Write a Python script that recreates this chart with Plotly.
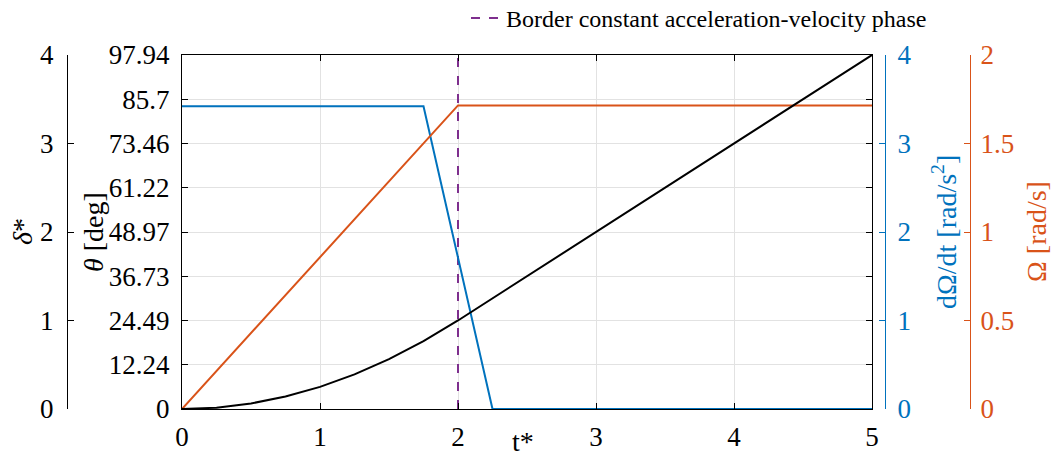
import plotly.graph_objects as go

# ---- data ----
t_theta = [0, 0.25, 0.5, 0.75, 1, 1.25, 1.5, 1.75, 2, 3, 4, 5]
theta = [0, 0.38, 1.53, 3.44, 6.12, 9.57, 13.78, 18.75, 24.49, 48.97, 73.46, 97.94]
t_acc = [0, 1.75, 2.25, 5]
acc = [3.42, 3.42, 0, 0]
t_omega = [0, 2, 5]
omega = [0, 1.715, 1.715]
t_border = [2, 2]
border = [0, 97.94]
x_ticks = [0, 1, 2, 3, 4, 5]
theta_ticks = ["0", "12.24", "24.49", "36.73", "48.97", "61.22", "73.46", "85.7", "97.94"]
delta_ticks = [0, 1, 2, 3, 4]
acc_ticks = [0, 1, 2, 3, 4]
omega_ticks = ["0", "0.5", "1", "1.5", "2"]

BLUE = "#0072BD"
ORANGE = "#D95319"
PURPLE = "#7E2F8E"
FONT = "Liberation Serif"
TICK = 27
TITLE = 28

W, H = 1059, 457
L, R, T, B = 182, 872, 55, 409


def px(x):
    return x / W


def py(y):
    return 1 - y / H


def tf(color):
    return dict(family=FONT, size=TICK, color=color)


fig = go.Figure()
fig.add_trace(go.Scatter(x=t_border, y=border, mode="lines", yaxis="y",
                         line=dict(color=PURPLE, width=2, dash="dash"),
                         name="Border constant acceleration-velocity phase"))
fig.add_trace(go.Scatter(x=[None], y=[None], mode="lines", yaxis="y2",
                         showlegend=False, hoverinfo="skip"))
fig.add_trace(go.Scatter(x=t_acc, y=acc, mode="lines", yaxis="y3",
                         line=dict(color=BLUE, width=2), showlegend=False))
fig.add_trace(go.Scatter(x=t_omega, y=omega, mode="lines", yaxis="y4",
                         line=dict(color=ORANGE, width=2), showlegend=False))
fig.add_trace(go.Scatter(x=t_theta, y=theta, mode="lines", yaxis="y5",
                         line=dict(color="black", width=2), showlegend=False))

common = dict(ticks="inside", ticklen=6, showline=True, linewidth=1,
              zeroline=False, automargin=False)

fig.update_layout(
    width=W, height=H,
    margin=dict(l=0, r=0, t=0, b=0, autoexpand=False),
    paper_bgcolor="white", plot_bgcolor="white",
    font=dict(family=FONT, size=TICK, color="black"),
    showlegend=True,
    legend=dict(x=px(466), y=1.0 + 4 / H, xanchor="left", yanchor="top",
                bgcolor="rgba(0,0,0,0)", font=dict(family=FONT, size=24)),
    xaxis=dict(domain=[px(L), px(R)], range=[0, 5], tickvals=x_ticks,
               mirror="ticks", linecolor="black", tickcolor="black", tickfont=tf("black"),
               showgrid=True, gridcolor="#e2e2e2", anchor="y", ticklabelstandoff=4, **common),
    yaxis=dict(domain=[py(B), py(T)], range=[0, 97.94],
               tickvals=[float(s) for s in theta_ticks], ticktext=theta_ticks,
               mirror="ticks", linecolor="black", tickcolor="black", tickfont=tf("black"),
               showgrid=True, gridcolor="#e2e2e2", anchor="x", ticklabelstandoff=6, **common),
    yaxis2=dict(overlaying="y", anchor="free", position=px(67), side="left",
                range=[0, 4], tickvals=delta_ticks, linecolor="black",
                tickcolor="black", tickfont=tf("black"), showgrid=False,
                ticklabelstandoff=8, **common),
    yaxis3=dict(overlaying="y", anchor="free", position=px(885), side="right",
                range=[0, 4], tickvals=acc_ticks, linecolor=BLUE, tickcolor=BLUE,
                tickfont=tf(BLUE), showgrid=False, ticklabelstandoff=6, **common),
    yaxis4=dict(overlaying="y", anchor="free", position=px(970), side="right",
                range=[0, 2], tickvals=[float(s) for s in omega_ticks],
                ticktext=omega_ticks, linecolor=ORANGE, tickcolor=ORANGE,
                tickfont=tf(ORANGE), showgrid=False, ticklabelstandoff=4, **common),
    yaxis5=dict(overlaying="y", anchor="x", range=[0, 97.94], visible=False),
)

yc = py((T + B) / 2)
ann = [
    dict(text="<i>δ</i>*", x=px(22), y=yc, color="black"),
    dict(text="<i>θ</i> [deg]", x=px(93), y=yc, color="black"),
    dict(text="dΩ/dt [rad/s<sup>2</sup>]", x=px(944), y=yc, color=BLUE),
    dict(text="Ω [rad/s]", x=px(1036), y=yc, color=ORANGE),
]
for a in ann:
    fig.add_annotation(text=a["text"], x=a["x"], y=a["y"], xref="paper", yref="paper",
                       xanchor="center", yanchor="middle", textangle=-90, showarrow=False,
                       font=dict(family=FONT, size=TITLE, color=a["color"]))
fig.add_annotation(text="t*", x=px(523), y=py(441), xref="paper", yref="paper",
                   xanchor="center", yanchor="middle", showarrow=False,
                   font=dict(family=FONT, size=TITLE, color="black"))

fig.write_html("out.html", config={"displayModeBar": False},
               post_script="document.body.style.margin='0px';document.body.style.overflow='hidden';")
